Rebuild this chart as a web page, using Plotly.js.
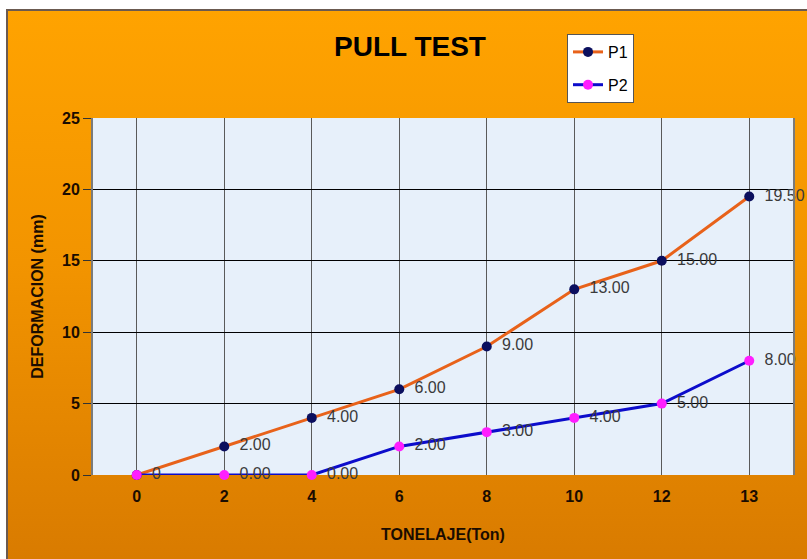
<!DOCTYPE html>
<html>
<head>
<meta charset="utf-8">
<script src="https://cdn.plot.ly/plotly-3.0.1.min.js"></script>
<style>
  html, body { margin:0; padding:0; background:#ffffff; }
  #frame { position:absolute; left:6px; top:9px; width:810px; height:560px;
           border-left:2px solid #6b5a50; border-top:2px solid #6b5a50;
           background:linear-gradient(to bottom, #FFA300 0%, #F29400 45%, #D87A00 100%); }
  #chart { position:absolute; left:0; top:0; width:807px; height:559px; }
</style>
</head>
<body>
<div id="frame"></div>
<div id="chart"></div>
<script>
const categories = ["0", "2", "4", "6", "8", "10", "12", "13"];
const p1Values = [0, 2, 4, 6, 9, 13, 15, 19.5];
const p2Values = [0, 0, 0, 2, 3, 4, 5, 8];
const p1Labels = ["", "2.00", "4.00", "6.00", "9.00", "13.00", "15.00", "19.50"];
const p2Labels = ["0", "0.00", "0.00", "2.00", "3.00", "4.00", "5.00", "8.00"];
const yTicks = [0, 5, 10, 15, 20, 25];

const idx = categories.map((c, i) => i);
const boundaries = [];
for (let i = 0; i <= categories.length; i++) boundaries.push(i - 0.5);
const pad = (arr) => arr.map(s => s === "" ? "" : "\u2002" + s);

const labelFont = {family: "Arial, 'Liberation Sans', sans-serif", size: 16, color: "#3a3a3a"};
const boldFont = (s) => ({family: "Arial, 'Liberation Sans', sans-serif", size: s, color: "#1a0c00", weight: "bold"});

const traces = [
  {
    name: "P1", x: idx, y: p1Values, text: pad(p1Labels), xaxis: "x2", yaxis: "y",
    mode: "lines+markers+text", textposition: "middle right", textfont: labelFont,
    line: {color: "#E8621A", width: 3},
    marker: {color: "#0B0F5E", size: 10},
    legendgroup: "a", cliponaxis: false
  },
  {
    name: "P2", x: idx, y: p2Values, text: pad(p2Labels), xaxis: "x2", yaxis: "y",
    mode: "lines+markers+text", textposition: "middle right", textfont: labelFont,
    line: {color: "#0C0CCB", width: 3},
    marker: {color: "#FF1EFF", size: 10},
    legendgroup: "b", cliponaxis: false
  }
];

const layout = {
  width: 807, height: 559,
  margin: {l: 93, r: 14, t: 118, b: 84},
  paper_bgcolor: "rgba(0,0,0,0)",
  plot_bgcolor: "#E7F0FA",
  title: {text: "PULL TEST", x: 410/807, xanchor: "center", y: 1 - 46/559, yanchor: "middle",
          font: {family: "Arial, 'Liberation Sans', sans-serif", size: 28, color: "#000000", weight: "bold"}},
  xaxis: {
    type: "linear", range: [-0.5, categories.length - 0.5],
    tickmode: "array", tickvals: boundaries, showticklabels: false,
    showgrid: true, gridcolor: "#000000", gridwidth: 1,
    ticks: "outside", ticklen: 5, tickcolor: "#333333",
    showline: true, linecolor: "#7a7a7a", linewidth: 2, mirror: true, zeroline: false
  },
  xaxis2: {
    overlaying: "x", side: "bottom", type: "linear", range: [-0.5, categories.length - 0.5],
    tickmode: "array", tickvals: idx, ticktext: categories,
    showgrid: true, gridcolor: "#5a5a5a", gridwidth: 1, ticks: "", zeroline: false,
    ticklabelstandoff: 10,
    tickfont: boldFont(16),
    title: {text: "TONELAJE(Ton)", font: boldFont(16), standoff: 24}
  },
  yaxis: {
    range: [0, 25], tickmode: "array", tickvals: yTicks,
    showgrid: true, gridcolor: "#000000", gridwidth: 1, zeroline: false,
    ticks: "outside", ticklen: 8, tickcolor: "#333333",
    showline: true, linecolor: "#7a7a7a", linewidth: 2, mirror: true,
    tickfont: boldFont(16),
    title: {text: "DEFORMACION (mm)", font: boldFont(16), standoff: 14}
  },
  legend: {
    x: (567 - 93) / 700, xanchor: "left", y: (475 - 34) / 357, yanchor: "top",
    bgcolor: "#ffffff", bordercolor: "#555555", borderwidth: 1,
    font: {family: "Arial, 'Liberation Sans', sans-serif", size: 16, color: "#000000"},
    traceorder: "grouped", tracegroupgap: 9, itemwidth: 30
  },
  showlegend: true
};

Plotly.newPlot("chart", traces, layout, {displayModeBar: false, staticPlot: true});
</script>
</body>
</html>
